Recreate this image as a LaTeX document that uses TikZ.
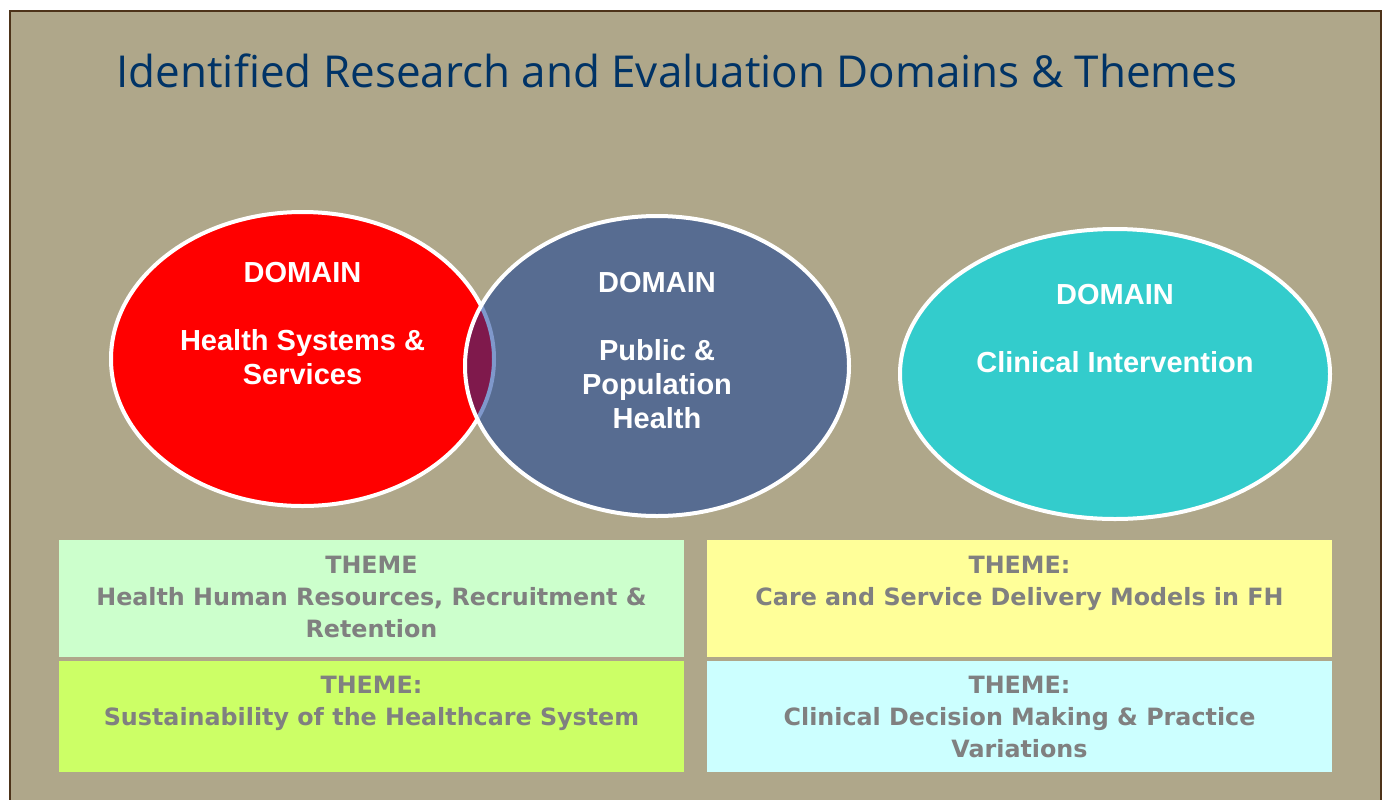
\documentclass[tikz,border=0pt]{standalone}
\usepackage{fontspec}
\setmainfont{Liberation Sans}
\newfontfamily\titlefont{Open Sans}
\newfontfamily\themefont{DejaVu Sans}
\usetikzlibrary{positioning,shapes.geometric}
\definecolor{Canvas}{HTML}{AFA78A}
\definecolor{Frame}{HTML}{4D3319}
\definecolor{Navy}{HTML}{003366}
\definecolor{DomRed}{HTML}{FF0000}
\definecolor{DomBlue}{HTML}{003399}
\definecolor{DomTeal}{HTML}{33CCCC}
\definecolor{ThemeGrey}{HTML}{808080}
\definecolor{Mint}{HTML}{CCFFCC}
\definecolor{Lime}{HTML}{CCFF66}
\definecolor{Butter}{HTML}{FFFF99}
\definecolor{Ice}{HTML}{CCFFFF}
\tikzset{
  domainoval/.style={ellipse,draw=white,line width=2pt,inner sep=0pt},
  domtext/.style={text=white,align=center,inner sep=0pt,font=\fontsize{14.5}{17}\selectfont\bfseries},
  themebox/.style={rectangle,inner sep=0pt,minimum width=312.5pt},
  themetext/.style={text=ThemeGrey,align=center,inner sep=0pt,font=\themefont\fontsize{11.9}{16}\selectfont\bfseries}
}

\begin{document}
\begin{tikzpicture}[x=0.5pt,y=0.5pt]
  \useasboundingbox (0,0) rectangle (1387,-799);
  \fill[white] (0,0) rectangle (1387,-799);
  \filldraw[fill=Canvas,draw=Frame,line width=1pt] (10,-11) rectangle (1381,-830);

  \node[anchor=base,text=Navy,inner sep=0pt,font=\titlefont\fontsize{22}{26}\selectfont] (title) at (677,-87)
    {Identified Research and Evaluation Domains \& Themes};

  % domains
  \node[domainoval,fill=DomRed,minimum width=191.5pt,minimum height=147pt] (hss) at (302.5,-359) {};
  \node[domainoval,fill=DomBlue,fill opacity=0.5,minimum width=192pt,minimum height=150pt] (pph) at (657,-366) {};
  \node[domainoval,fill=DomTeal,minimum width=215pt,minimum height=145pt] (ci) at (1115,-374) {};

  \node[domtext,below=26pt of hss.north] (hsstxt) {DOMAIN\\[17pt]Health Systems \&\\Services};
  \node[domtext,below=29pt of pph.north] (pphtxt) {DOMAIN\\[17pt]Public \&\\Population\\Health};
  \node[domtext,below=28.5pt of ci.north] (citxt) {DOMAIN\\[17pt]Clinical Intervention};

  % themes
  \node[themebox,fill=Mint,minimum height=58.5pt] (hhr) at (371.5,-598.5) {};
  \node[themebox,fill=Lime,minimum height=55.5pt] (sus) at (371.5,-716.5) {};
  \node[themebox,fill=Butter,minimum height=58.5pt] (care) at (1019.5,-598.5) {};
  \node[themebox,fill=Ice,minimum height=55.5pt] (cdm) at (1019.5,-716.5) {};

  \node[themetext,below=8.2pt of hhr.north] (hhrtxt) {THEME\\Health Human Resources, Recruitment \&\\Retention};
  \node[themetext,below=7.7pt of sus.north] (sustxt) {THEME:\\Sustainability of the Healthcare System};
  \node[themetext,below=8.2pt of care.north] (caretxt) {THEME:\\Care and Service Delivery Models in FH};
  \node[themetext,below=7.7pt of cdm.north] (cdmtxt) {THEME:\\Clinical Decision Making \& Practice\\Variations};
\end{tikzpicture}
\end{document}
